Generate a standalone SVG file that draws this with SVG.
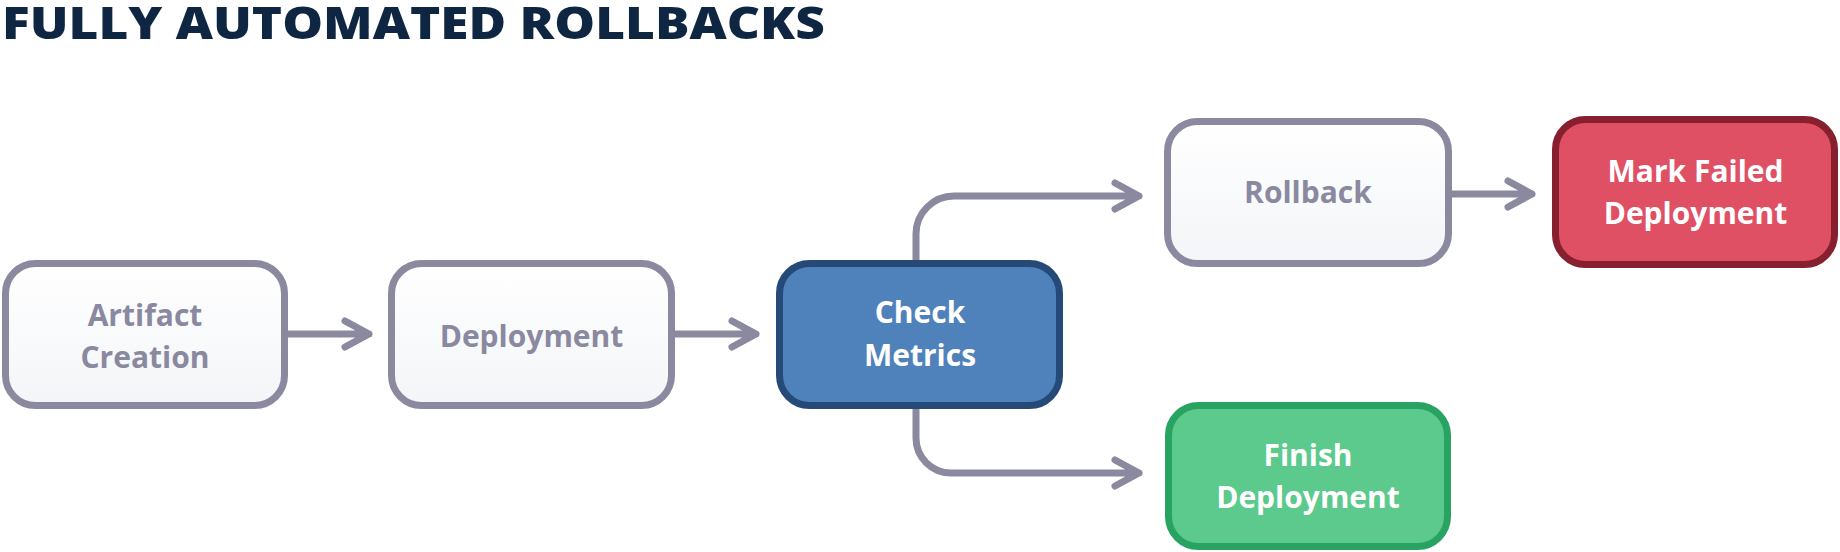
<svg xmlns="http://www.w3.org/2000/svg" width="1840" height="552" viewBox="0 0 1840 552">
  <defs>
    <linearGradient id="wg" x1="0" y1="0" x2="0" y2="1">
      <stop offset="0" stop-color="#ffffff"/>
      <stop offset="1" stop-color="#f3f5f8"/>
    </linearGradient>
    <style>
      .title { font-family: "Open Sans", "Liberation Sans", sans-serif; font-weight: 800; font-size: 45px; fill: #0e2642; }
      .box { stroke-width: 7; }
      .plain { fill: url(#wg); stroke: #8a89a0; }
      .blue { fill: #4f81bb; stroke: #254a77; }
      .red { fill: #e05064; stroke: #86202e; }
      .green { fill: #5bca8c; stroke: #28a361; }
      .lbl { font-family: "Open Sans", "Liberation Sans", sans-serif; font-weight: 700; font-size: 30px; text-anchor: middle; }
      .grey { fill: #8a89a0; }
      .white { fill: #ffffff; }
      .conn { fill: none; stroke: #8a89a0; stroke-width: 7; stroke-linecap: round; stroke-linejoin: round; }
    </style>
  </defs>
  <rect width="1840" height="552" fill="#ffffff"/>
  <text class="title" x="2" y="39" textLength="823" lengthAdjust="spacingAndGlyphs">FULLY AUTOMATED ROLLBACKS</text>

  <g id="connectors">
    <path class="conn" d="M287 334 H369 M345 321 L369 334 L345 347"/>
    <path class="conn" d="M675 334 H756 M732 321 L756 334 L732 347"/>
    <path class="conn" d="M916 260 V234 A38 38 0 0 1 954 196 H1139 M1115 183 L1139 196 L1115 209"/>
    <path class="conn" d="M1452 194 H1532 M1508 181 L1532 194 L1508 207"/>
    <path class="conn" d="M916 409 V438 A35 35 0 0 0 951 473 H1139 M1115 460 L1139 473 L1115 486"/>
  </g>

  <g id="artifact-creation">
    <rect class="box plain" x="5.5" y="263.5" width="279" height="142" rx="30"/>
    <text class="lbl grey" x="145" y="326">Artifact</text>
    <text class="lbl grey" x="145" y="368">Creation</text>
  </g>
  <g id="deployment">
    <rect class="box plain" x="391.5" y="263.5" width="280" height="142" rx="30"/>
    <text class="lbl grey" x="531.5" y="347">Deployment</text>
  </g>
  <g id="check-metrics">
    <rect class="box blue" x="779.5" y="263.5" width="280" height="142" rx="30"/>
    <text class="lbl white" x="920" y="323">Check</text>
    <text class="lbl white" x="920" y="365.5">Metrics</text>
  </g>
  <g id="rollback">
    <rect class="box plain" x="1167.5" y="121.5" width="281" height="142" rx="30"/>
    <text class="lbl grey" x="1308" y="203">Rollback</text>
  </g>
  <g id="mark-failed-deployment">
    <rect class="box red" x="1555.5" y="119.5" width="279" height="145" rx="30"/>
    <text class="lbl white" x="1695.5" y="182">Mark Failed</text>
    <text class="lbl white" x="1695.5" y="223.5">Deployment</text>
  </g>
  <g id="finish-deployment">
    <rect class="box green" x="1168.5" y="405.5" width="279" height="141" rx="30"/>
    <text class="lbl white" x="1308" y="465.5">Finish</text>
    <text class="lbl white" x="1308" y="508">Deployment</text>
  </g>
</svg>
